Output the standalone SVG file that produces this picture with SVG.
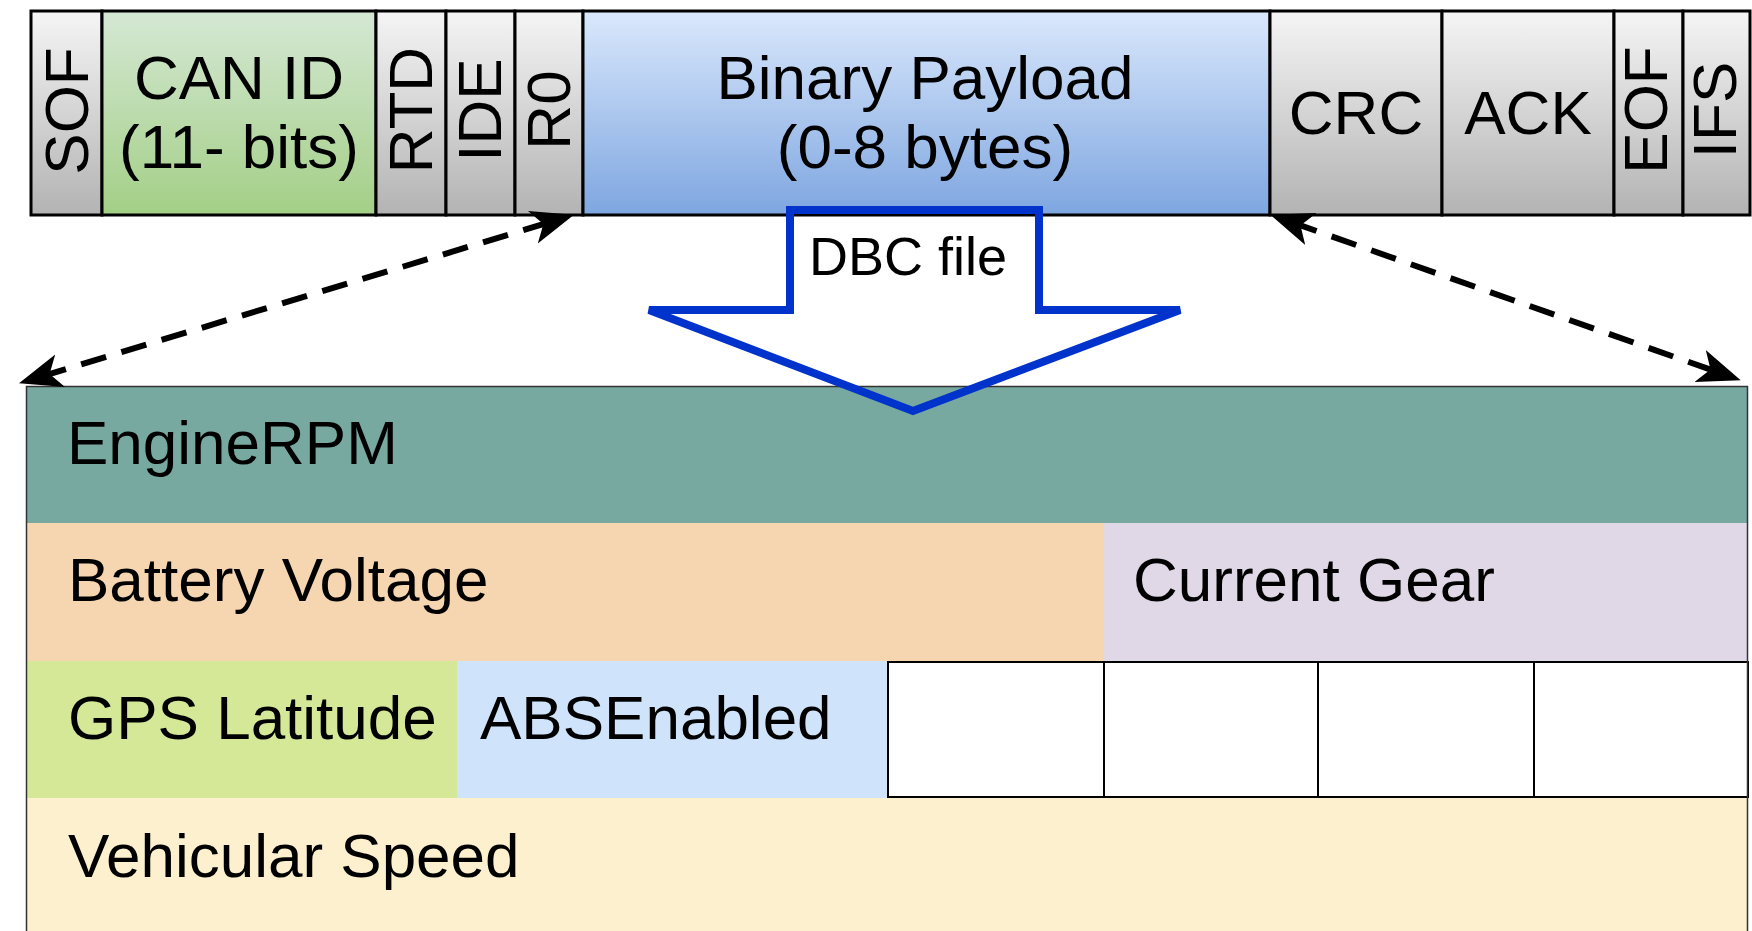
<svg xmlns="http://www.w3.org/2000/svg" width="1752" height="931" viewBox="0 0 1752 931">
<defs>
<linearGradient id="gGrey" x1="0" y1="0" x2="0" y2="1"><stop offset="0" stop-color="#f5f5f5"/><stop offset="1" stop-color="#b3b3b3"/></linearGradient>
<linearGradient id="gGreen" x1="0" y1="0" x2="0" y2="1"><stop offset="0" stop-color="#d5e8d4"/><stop offset="1" stop-color="#a3cf86"/></linearGradient>
<linearGradient id="gBlue" x1="0" y1="0" x2="0" y2="1"><stop offset="0" stop-color="#dae8fc"/><stop offset="1" stop-color="#7ea6e0"/></linearGradient>
<marker id="arr" viewBox="0 -18 44 36" markerWidth="44" markerHeight="36" refX="20" refY="0" markerUnits="userSpaceOnUse" orient="auto-start-reverse">
<path d="M43,0 L0,-17 L11,0 L0,17 Z" fill="#000"/>
</marker>
<style>
.cell{stroke:#000;stroke-width:3}
.t{font-family:"Liberation Sans",Arial,sans-serif;font-size:62px;fill:#000}
.c{text-anchor:middle}
.s{font-family:"Liberation Sans",Arial,sans-serif;font-size:62px;fill:#000}
.w{fill:#fff;stroke:#000;stroke-width:2}
.dash{stroke:#000;stroke-width:6;fill:none;stroke-dasharray:26 16}
</style>
</defs>
<rect width="1752" height="931" fill="#fff"/>

<g id="frame">
<g id="sof"><rect class="cell" x="31" y="11" width="71" height="204" fill="url(#gGrey)"/><text class="t c" transform="translate(66,111) rotate(-90)" y="22">SOF</text></g>
<g id="canid"><rect class="cell" x="102" y="11" width="274" height="204" fill="url(#gGreen)"/><text class="t c" x="239" y="99">CAN ID</text><text class="t c" x="239" y="168">(11- bits)</text></g>
<g id="rtd"><rect class="cell" x="376" y="11" width="70" height="204" fill="url(#gGrey)"/><text class="t c" transform="translate(410,110) rotate(-90)" y="22">RTD</text></g>
<g id="ide"><rect class="cell" x="446" y="11" width="69" height="204" fill="url(#gGrey)"/><text class="t c" transform="translate(479,110) rotate(-90)" y="22">IDE</text></g>
<g id="r0"><rect class="cell" x="515" y="11" width="68" height="204" fill="url(#gGrey)"/><text class="t c" transform="translate(548,110) rotate(-90)" y="22">R0</text></g>
<g id="payload"><rect class="cell" x="583" y="11" width="687" height="204" fill="url(#gBlue)"/><text class="t c" x="925" y="99">Binary Payload</text><text class="t c" x="925" y="168">(0-8 bytes)</text></g>
<g id="crc"><rect class="cell" x="1270" y="11" width="172" height="204" fill="url(#gGrey)"/><text class="t c" x="1356" y="134">CRC</text></g>
<g id="ack"><rect class="cell" x="1442" y="11" width="172" height="204" fill="url(#gGrey)"/><text class="t c" x="1528" y="134">ACK</text></g>
<g id="eof"><rect class="cell" x="1614" y="11" width="69" height="204" fill="url(#gGrey)"/><text class="t c" transform="translate(1645,110) rotate(-90)" y="22">EOF</text></g>
<g id="ifs"><rect class="cell" x="1683" y="11" width="67" height="204" fill="url(#gGrey)"/><text class="t c" transform="translate(1714,110) rotate(-90)" y="22">IFS</text></g>
</g>

<g id="signals">
<g id="enginerpm"><rect x="26" y="386" width="1722" height="137" fill="#77a9a0"/><text class="s" x="67" y="464">EngineRPM</text></g>
<g id="battery"><rect x="26" y="523" width="1078" height="138" fill="#f5d6b0"/><text class="s" x="68" y="601">Battery Voltage</text></g>
<g id="gear"><rect x="1104" y="523" width="644" height="138" fill="#e0d8e6"/><text class="s" x="1133" y="601">Current Gear</text></g>
<g id="gps"><rect x="26" y="661" width="431" height="137" fill="#d4e897"/><text class="s" x="68" y="739">GPS Latitude</text></g>
<g id="abs"><rect x="457" y="661" width="431" height="137" fill="#cfe3fa"/><text class="s" x="480" y="739">ABSEnabled</text></g>
<g id="empty1"><rect class="w" x="888" y="662" width="216" height="135"/></g>
<g id="empty2"><rect class="w" x="1104" y="662" width="214" height="135"/></g>
<g id="empty3"><rect class="w" x="1318" y="662" width="216" height="135"/></g>
<g id="empty4"><rect class="w" x="1534" y="662" width="214" height="135"/></g>
<g id="speed"><rect x="26" y="798" width="1722" height="148" fill="#fcf0cf"/><text class="s" x="68" y="877">Vehicular Speed</text></g>
<path d="M26.5,386 V931 M26,386.5 H1748 M1747.5,386 V931" fill="none" stroke="#333" stroke-width="1.5"/>
</g>

<g id="connectors">
<line class="dash" x1="41" y1="376.6" x2="552" y2="221.4" marker-start="url(#arr)" marker-end="url(#arr)"/>
<line class="dash" x1="1292" y1="222.4" x2="1719" y2="372.6" marker-start="url(#arr)" marker-end="url(#arr)"/>
<g id="dbc">
<polygon points="790,210 1039,210 1039,310 1180,310 913,411 649,310 790,310" fill="none" stroke="#0033cc" stroke-width="8"/>
<text x="908" y="275" font-family="'Liberation Sans',Arial,sans-serif" font-size="54" text-anchor="middle">DBC file</text>
</g>
</g>
</svg>
